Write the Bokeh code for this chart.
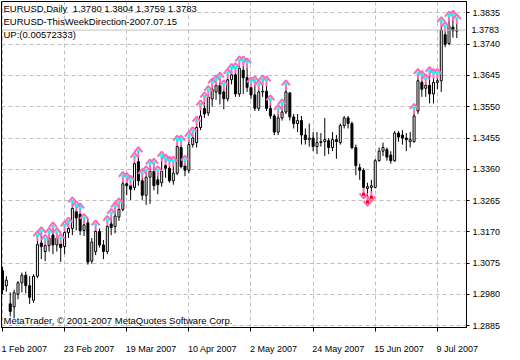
from bokeh.plotting import figure
from bokeh.models import (Range1d, FixedTicker, PrintfTickFormatter, Label, Span, LinearAxis,
                          CustomLabelingPolicy)
from bokeh.embed import file_html
from bokeh.resources import INLINE

# ---- data (EURUSD daily, 1 Feb 2007 .. mid Jul 2007), bar index 0..117 ----
opens = [1.3052, 1.3006, 1.2951, 1.2942, 1.2980, 1.3015, 1.3038, 1.3006, 1.2962, 1.3035,
         1.3136, 1.3110, 1.3128, 1.3160, 1.3130, 1.3133, 1.3125, 1.3168, 1.3180, 1.3232,
         1.3223, 1.3174, 1.3197, 1.3081, 1.3110, 1.3171, 1.3130, 1.3110, 1.3194, 1.3186,
         1.3215, 1.3238, 1.3316, 1.3310, 1.3305, 1.3383, 1.3325, 1.3281, 1.3336, 1.3354,
         1.3328, 1.3319, 1.3371, 1.3363, 1.3325, 1.3348, 1.3426, 1.3371, 1.3357, 1.3435,
         1.3441, 1.3487, 1.3545, 1.3531, 1.3574, 1.3595, 1.3615, 1.3595, 1.3574, 1.3632,
         1.3647, 1.3589, 1.3661, 1.3638, 1.3609, 1.3586, 1.3545, 1.3595, 1.3597, 1.3545,
         1.3522, 1.3473, 1.3516, 1.3534, 1.3592, 1.3519, 1.3499, 1.3508, 1.3464, 1.3450,
         1.3455, 1.3429, 1.3441, 1.3444, 1.3447, 1.3426, 1.3450, 1.3441, 1.3493, 1.3516,
         1.3499, 1.3426, 1.3365, 1.3357, 1.3302, 1.3305, 1.3305, 1.3386, 1.3415, 1.3420,
         1.3403, 1.3386, 1.3470, 1.3464, 1.3455, 1.3444, 1.3444, 1.3537, 1.3624, 1.3606,
         1.3615, 1.3589, 1.3624, 1.3629, 1.3769, 1.3742, 1.3792, 1.3780]
highs = [1.3064, 1.3035, 1.2986, 1.2994, 1.3020, 1.3046, 1.3049, 1.3035, 1.3041, 1.3145,
         1.3157, 1.3133, 1.3154, 1.3171, 1.3154, 1.3136, 1.3174, 1.3186, 1.3247, 1.3235,
         1.3229, 1.3197, 1.3209, 1.3151, 1.3177, 1.3180, 1.3145, 1.3191, 1.3212, 1.3232,
         1.3244, 1.3325, 1.3322, 1.3313, 1.3383, 1.3400, 1.3334, 1.3342, 1.3363, 1.3365,
         1.3342, 1.3386, 1.3377, 1.3371, 1.3371, 1.3435, 1.3435, 1.3374, 1.3447, 1.3461,
         1.3493, 1.3542, 1.3566, 1.3586, 1.3609, 1.3618, 1.3626, 1.3603, 1.3638, 1.3653,
         1.3655, 1.3676, 1.3676, 1.3670, 1.3612, 1.3615, 1.3603, 1.3618, 1.3615, 1.3557,
         1.3528, 1.3528, 1.3545, 1.3603, 1.3595, 1.3528, 1.3528, 1.3522, 1.3484, 1.3499,
         1.3473, 1.3473, 1.3470, 1.3516, 1.3455, 1.3473, 1.3464, 1.3499, 1.3522, 1.3522,
         1.3505, 1.3435, 1.3377, 1.3363, 1.3319, 1.3328, 1.3391, 1.3426, 1.3441, 1.3426,
         1.3415, 1.3476, 1.3476, 1.3479, 1.3470, 1.3473, 1.3531, 1.3638, 1.3632, 1.3621,
         1.3644, 1.3638, 1.3638, 1.3795, 1.3780, 1.3812, 1.3815, 1.3804]
lows = [1.2980, 1.2988, 1.2913, 1.2907, 1.2965, 1.2986, 1.2983, 1.2951, 1.2954, 1.3029,
        1.3087, 1.3081, 1.3110, 1.3102, 1.3110, 1.3078, 1.3102, 1.3151, 1.3160, 1.3174,
        1.3160, 1.3157, 1.3070, 1.3073, 1.3099, 1.3122, 1.3087, 1.3102, 1.3160, 1.3165,
        1.3203, 1.3232, 1.3281, 1.3267, 1.3296, 1.3310, 1.3267, 1.3252, 1.3255, 1.3296,
        1.3284, 1.3307, 1.3334, 1.3319, 1.3313, 1.3342, 1.3363, 1.3339, 1.3348, 1.3426,
        1.3426, 1.3479, 1.3516, 1.3522, 1.3551, 1.3571, 1.3557, 1.3542, 1.3566, 1.3618,
        1.3580, 1.3580, 1.3589, 1.3595, 1.3574, 1.3537, 1.3537, 1.3580, 1.3537, 1.3513,
        1.3464, 1.3464, 1.3508, 1.3528, 1.3508, 1.3484, 1.3473, 1.3435, 1.3435, 1.3429,
        1.3415, 1.3406, 1.3429, 1.3400, 1.3406, 1.3415, 1.3392, 1.3435, 1.3484, 1.3484,
        1.3421, 1.3342, 1.3328, 1.3299, 1.3276, 1.3290, 1.3302, 1.3383, 1.3400, 1.3386,
        1.3377, 1.3383, 1.3444, 1.3435, 1.3415, 1.3426, 1.3441, 1.3528, 1.3580, 1.3580,
        1.3560, 1.3560, 1.3603, 1.3595, 1.3731, 1.3737, 1.3760, 1.3759]
closes = [1.2994, 1.3023, 1.2928, 1.2985, 1.3015, 1.3038, 1.3006, 1.2971, 1.3035, 1.3131,
          1.3125, 1.3128, 1.3151, 1.3130, 1.3151, 1.3122, 1.3168, 1.3180, 1.3241, 1.3212,
          1.3174, 1.3191, 1.3078, 1.3139, 1.3171, 1.3130, 1.3110, 1.3186, 1.3183, 1.3218,
          1.3238, 1.3316, 1.3310, 1.3299, 1.3377, 1.3325, 1.3281, 1.3336, 1.3354, 1.3310,
          1.3313, 1.3354, 1.3363, 1.3325, 1.3348, 1.3429, 1.3368, 1.3357, 1.3435, 1.3455,
          1.3487, 1.3522, 1.3528, 1.3580, 1.3603, 1.3615, 1.3589, 1.3574, 1.3632, 1.3647,
          1.3589, 1.3667, 1.3638, 1.3609, 1.3586, 1.3545, 1.3595, 1.3597, 1.3545, 1.3522,
          1.3473, 1.3516, 1.3534, 1.3595, 1.3519, 1.3499, 1.3508, 1.3464, 1.3450, 1.3455,
          1.3429, 1.3441, 1.3444, 1.3450, 1.3426, 1.3450, 1.3444, 1.3493, 1.3516, 1.3499,
          1.3426, 1.3371, 1.3357, 1.3305, 1.3307, 1.3310, 1.3386, 1.3415, 1.3426, 1.3397,
          1.3386, 1.3470, 1.3458, 1.3455, 1.3450, 1.3450, 1.3522, 1.3629, 1.3603, 1.3615,
          1.3589, 1.3624, 1.3629, 1.3783, 1.3740, 1.3795, 1.3781, 1.3783]

# bars flagged by the ThisWeekDirection indicator
up_bars = (list(range(9, 22)) + [24] + list(range(27, 70)) + [71, 72, 73]
           + list(range(106, 118)))
down_bars = [93, 94, 95]

date_ticks = [0, 16, 32, 48, 64, 80, 96, 112]
date_labels = ["1 Feb 2007", "23 Feb 2007", "19 Mar 2007", "10 Apr 2007",
               "2 May 2007", "24 May 2007", "15 Jun 2007", "9 Jul 2007"]
price_ticks = [1.2885, 1.2980, 1.3075, 1.3170, 1.3265, 1.3360, 1.3455,
               1.3550, 1.3645, 1.3740, 1.3835]

# ---- layout ----
FW, FH = 465, 326
X0, X1 = -0.25, 119.5
Y0, Y1 = 1.28792, 1.38698
ppx = (Y1 - Y0) / FH     # price per pixel
bpx = (X1 - X0) / FW     # bars per pixel
FONT = "Liberation Sans"
AXFS = 9                 # axis label font size, px

p = figure(frame_width=FW, frame_height=FH, x_range=Range1d(X0, X1), y_range=Range1d(Y0, Y1),
           output_backend="svg", toolbar_location=None, y_axis_location="right",
           min_border_left=1, min_border_top=1, min_border_right=38, min_border_bottom=4)
p.background_fill_color = "white"
p.border_fill_color = "white"
p.outline_line_color = "black"
p.outline_line_width = 1

# tick/grid axis for dates; its own labels are suppressed, a second axis writes them
xa = p.xaxis[0]
xa.ticker = FixedTicker(ticks=date_ticks)
xa.major_tick_out = 4
xa.major_tick_in = 0
xa.minor_tick_out = 0
xa.major_label_standoff = 0
xa.major_label_policy = CustomLabelingPolicy(code="for (const i of indices) { indices.unset(i) }\nreturn indices")
xa.axis_line_color = "black"
xa.major_tick_line_color = "black"

# label-only axis: MetaTrader writes each date starting at its tick
W_EM = {" ": 0.278, "0": 0.556, "1": 0.556, "2": 0.556, "3": 0.556, "4": 0.556, "5": 0.556,
        "6": 0.556, "7": 0.556, "8": 0.556, "9": 0.556, "F": 0.611, "M": 0.833, "A": 0.667,
        "J": 0.5, "e": 0.556, "b": 0.556, "a": 0.556, "r": 0.333, "p": 0.556, "y": 0.5,
        "u": 0.556, "n": 0.556, "l": 0.222, ".": 0.278}
def text_px(s):
    return sum(W_EM.get(ch, 0.556) for ch in s) * AXFS
lab_pos = [round(t + text_px(s) / 2.0 * bpx - 0.25, 3) for t, s in zip(date_ticks, date_labels)]
la = LinearAxis(ticker=FixedTicker(ticks=lab_pos),
                major_label_overrides={pp: s for pp, s in zip(lab_pos, date_labels)},
                major_tick_out=0, major_tick_in=0, minor_tick_out=0, minor_tick_in=0,
                axis_line_color=None, major_tick_line_color=None, minor_tick_line_color=None,
                major_label_standoff=1, major_label_text_font=FONT,
                major_label_text_font_size="%dpx" % AXFS, major_label_text_color="black")
p.add_layout(la, "below")

ya = p.yaxis[0]
ya.ticker = FixedTicker(ticks=price_ticks)
ya.formatter = PrintfTickFormatter(format="%.4f")
ya.major_tick_out = 3
ya.major_tick_in = 0
ya.minor_tick_out = 0
ya.major_label_standoff = 3
ya.axis_line_color = "black"
ya.major_tick_line_color = "black"
ya.major_label_text_font = FONT
ya.major_label_text_font_size = "%dpx" % AXFS
ya.major_label_text_color = "black"

# current-price marker: a second right axis whose single label is pulled back
# (negative standoff) onto the price scale, next to the frame
ya_w = 3 + 3 + text_px("1.3835")
cur = LinearAxis(ticker=FixedTicker(ticks=[closes[-1]]), formatter=PrintfTickFormatter(format="%.4f"),
                 major_tick_out=0, major_tick_in=0, minor_tick_out=0, minor_tick_in=0,
                 axis_line_color=None, major_tick_line_color=None, minor_tick_line_color=None,
                 major_label_standoff=int(round(2 - ya_w)), major_label_text_font=FONT,
                 major_label_text_font_size="%dpx" % AXFS)
if "major_label_background_fill_color" in LinearAxis.properties():
    cur.major_label_background_fill_color = "black"
    cur.major_label_text_color = "white"
else:
    cur.major_label_text_color = "black"
p.add_layout(cur, "right")

for g in (p.xgrid[0], p.ygrid[0]):
    g.grid_line_color = "#C0C0C0"
    g.grid_line_dash = "4 3"
    g.grid_line_width = 1

# bid line
p.add_layout(Span(location=closes[-1], dimension="width", line_color="#C0C0C0", line_width=1))

# ---- candles ----
idx = list(range(len(closes)))
p.segment(x0=idx, y0=lows, x1=idx, y1=highs, line_color="black", line_width=1)
tops = [max(o, c) for o, c in zip(opens, closes)]
bots = [min(o, c) for o, c in zip(opens, closes)]
fills = ["white" if c >= o else "black" for o, c in zip(opens, closes)]
p.vbar(x=idx, width=2 * bpx, top=tops, bottom=bots, fill_color=fills,
       line_color="black", line_width=1)

# ---- up arrows (pink umbrella, aqua dot) ----
PINK, AQUA, RED = "#FF69B4", "#00FFFF", "#FF0000"
uh = [highs[i] for i in up_bars]
p.segment(x0=up_bars, y0=[h + 4 * ppx for h in uh], x1=up_bars, y1=[h - 1 * ppx for h in uh],
          line_color=PINK, line_width=2)
p.multi_line(xs=[[i - 4 * bpx, i, i + 4 * bpx] for i in up_bars],
             ys=[[h + 4 * ppx, h + 9 * ppx, h + 4 * ppx] for h in uh],
             line_color=PINK, line_width=2)
p.scatter(x=up_bars, y=[h + 5 * ppx for h in uh], marker="square", size=3,
          fill_color=AQUA, line_color=None)

# ---- down arrows (pink, red dot) ----
dl = [lows[i] for i in down_bars]
p.segment(x0=down_bars, y0=[l + 1 * ppx for l in dl], x1=down_bars, y1=[l - 4 * ppx for l in dl],
          line_color=PINK, line_width=2)
p.multi_line(xs=[[i - 4 * bpx, i, i + 4 * bpx] for i in down_bars],
             ys=[[l - 4 * ppx, l - 9 * ppx, l - 4 * ppx] for l in dl],
             line_color=PINK, line_width=2)
p.scatter(x=down_bars, y=[l - 5 * ppx for l in dl], marker="square", size=3,
          fill_color=RED, line_color=None)

# ---- texts ----
head = "EURUSD,Daily\u00a0 %.4f %.4f %.4f %.4f" % (opens[-1], highs[-1], lows[-1], closes[-1])
for txt, yy in [(head, FH - 7), ("EURUSD-ThisWeekDirection-2007.07.15", FH - 20),
                ("UP:(0.00572333)", FH - 33),
                ("MetaTrader, \u00a9 2001-2007 MetaQuotes Software Corp.", 7)]:
    p.add_layout(Label(x=2, y=yy, x_units="screen", y_units="screen", text=txt,
                       text_baseline="middle", text_align="left", text_font=FONT,
                       text_font_size="9.5px", text_color="black"))

open("out.html", "w").write(file_html(p, INLINE))
